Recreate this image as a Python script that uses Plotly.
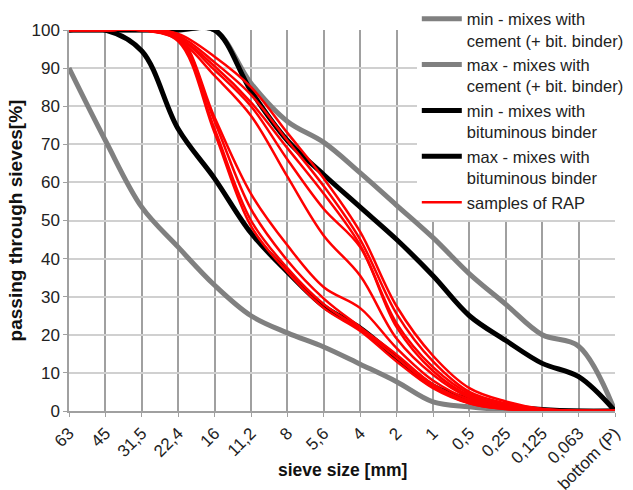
import plotly.graph_objects as go

sieves = ["63", "45", "31,5", "22,4", "16", "11,2", "8", "5,6", "4", "2", "1",
          "0,5", "0,25", "0,125", "0,063", "bottom (P)"]

cem_min = [90, 71, 53.5, 43, 33, 25, 20.5, 16.8, 12.3, 7.7, 2.4, 1.1, 0.3, 0, 0, 0]
cem_max = [100, 100, 100, 100, 100, 86, 76, 70.5, 62.5, 54, 45.5, 36, 28, 20, 17, 0]
bit_min = [100, 100, 94.5, 74, 61, 46.7, 36.5, 27.5, 21.8, 14, 6.6, 3, 1.3, 0.4, 0, 0]
bit_max = [100, 100, 100, 100, 100, 84, 71, 62, 53.5, 45, 35.5, 25, 18.5, 12.5, 9, 0]

rap_1 = [100, 100, 100, 99, 93, 85, 73, 61, 47, 27.5, 14.5, 6, 2.5, 0.5, 0, 0]
rap_2 = [100, 100, 100, 98.5, 91.5, 83, 71, 59, 45, 25.5, 13, 5, 2, 0.5, 0, 0]
rap_3 = [100, 100, 100, 98, 90.5, 81, 69, 57, 43.5, 23, 11.5, 4.5, 1.5, 0.3, 0, 0]
rap_4 = [100, 100, 100, 98, 89.5, 80, 66, 53, 43, 22, 10.5, 4, 1.5, 0.3, 0, 0]
rap_5 = [100, 100, 100, 97.5, 88, 77.5, 61.5, 46, 35.5, 19, 9.5, 3.5, 1, 0.2, 0, 0]
rap_6 = [100, 100, 100, 98.5, 77, 57, 43.5, 32.5, 27, 16.5, 8, 3, 1, 0.2, 0, 0]
rap_7 = [100, 100, 100, 98, 76, 53, 39.5, 29.5, 22, 14.8, 7, 2.5, 0.8, 0.1, 0, 0]
rap_8 = [100, 100, 100, 97.5, 74, 50, 37.5, 28, 21.5, 14, 6.5, 2, 0.5, 0, 0, 0]
rap_9 = [100, 100, 100, 97, 73, 48.5, 36.5, 27, 21, 13, 6, 2, 0.5, 0, 0, 0]
rap_samples = [rap_1, rap_2, rap_3, rap_4, rap_5, rap_6, rap_7, rap_8, rap_9]

xs = list(range(len(sieves)))
GRAY = "#808080"
FONT = "Liberation Sans, Arial, sans-serif"

fig = go.Figure()
fig.add_trace(go.Scatter(x=xs, y=cem_min, mode="lines", line=dict(color=GRAY, width=5, shape="spline"),
                         name="min - mixes with<br>cement (+ bit. binder)"))
fig.add_trace(go.Scatter(x=xs, y=cem_max, mode="lines", line=dict(color=GRAY, width=5, shape="spline"),
                         name="max - mixes with<br>cement (+ bit. binder)"))
fig.add_trace(go.Scatter(x=xs, y=bit_min, mode="lines", line=dict(color="black", width=5, shape="spline"),
                         name="min - mixes with<br>bituminous binder"))
fig.add_trace(go.Scatter(x=xs, y=bit_max, mode="lines", line=dict(color="black", width=5, shape="spline"),
                         name="max - mixes with<br>bituminous binder"))
for i, s in enumerate(rap_samples):
    fig.add_trace(go.Scatter(x=xs, y=s, mode="lines", line=dict(color="#ff0000", width=2.5, shape="spline"),
                             name="samples of RAP", showlegend=(i == 0), legendgroup="rap"))

fig.update_layout(
    width=633, height=490,
    margin=dict(l=69, r=18, t=30, b=79, autoexpand=False),
    paper_bgcolor="white", plot_bgcolor="white",
    font=dict(family=FONT, size=17, color="#222"),
    showlegend=True,
    legend=dict(x=0.637, y=1.075, xanchor="left", yanchor="top", bgcolor="white",
                font=dict(family=FONT, size=16.5, color="#222"), valign="top",
                tracegroupgap=0, itemwidth=40, borderwidth=0),
    xaxis=dict(range=[0, 15], tickmode="array", tickvals=xs, ticktext=sieves, tickangle=-45,
               showgrid=True, gridcolor="#a0a0a0", gridwidth=1.5, automargin=False,
               showline=True, linecolor="#a0a0a0", linewidth=1.5,
               ticks="outside", ticklen=4, tickcolor="#a0a0a0",
               tickfont=dict(size=17, color="#222"), zeroline=False),
    yaxis=dict(range=[0, 100], dtick=10, showgrid=True, gridcolor="#d0d0d0", gridwidth=1.5,
               showline=True, linecolor="#a0a0a0", linewidth=1.5, automargin=False,
               ticks="outside", ticklen=4, tickcolor="#a0a0a0",
               tickfont=dict(size=17, color="#222"), zeroline=False,
               title=dict(text="<b>passing through sieves[%]</b>", font=dict(size=19, color="#111"),
                          standoff=4)),
)
fig.add_annotation(text="<b>sieve size [mm]</b>", xref="paper", yref="paper", x=0.5, y=-0.155,
                   showarrow=False, font=dict(size=17.5, color="#111", family=FONT), yanchor="middle")

fig.write_html("out.html")
